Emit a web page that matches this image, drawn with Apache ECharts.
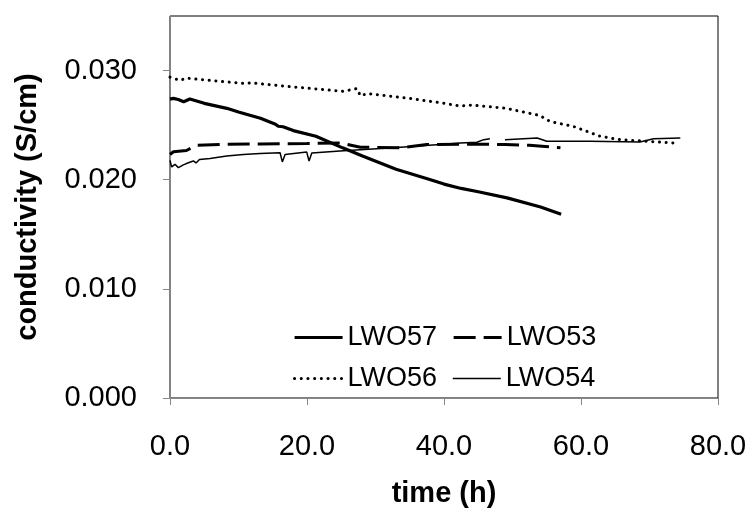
<!DOCTYPE html>
<html>
<head>
<meta charset="utf-8">
<script src="https://cdn.jsdelivr.net/npm/echarts@6/dist/echarts.min.js"></script>
<style>
html,body{margin:0;padding:0;background:#fff;}
#chart{width:753px;height:513px;}
</style>
</head>
<body>
<div id="chart"></div>
<script>
// ---- data (time in h, conductivity in S/cm) ----
const seriesNames = ['LWO57', 'LWO53', 'LWO56', 'LWO54'];
const xTicks = [0, 20, 40, 60, 80];
const yTicks = [0, 0.01, 0.02, 0.03];

const t57 = [0, 0.5, 1.2, 2.0, 2.9, 5.0, 8.3, 10.0, 13.2, 15.4, 15.8, 16.5, 18.0, 21.3, 25.2, 28.1, 33.0, 37.8, 40.0, 42.5, 45.0, 49.2, 54.1, 57.1];
const v57 = [0.02738, 0.02745, 0.02735, 0.02714, 0.0274, 0.0270, 0.02654, 0.0262, 0.02563, 0.02509, 0.0249, 0.02485, 0.0245, 0.02398, 0.02292, 0.02217, 0.02096, 0.02005, 0.0196, 0.0192, 0.0189, 0.01834, 0.0175, 0.01684];

const t53 = [0, 0.5, 2.4, 3.9, 8.0, 13.2, 20.0, 24.8, 27.8, 33.6, 37.5, 42.4, 46.0, 48.9, 52.5, 54.3, 57.0];
const v53 = [0.02231, 0.02256, 0.02268, 0.02316, 0.02325, 0.02328, 0.02332, 0.02337, 0.02298, 0.02292, 0.02322, 0.02325, 0.02326, 0.02322, 0.02316, 0.02307, 0.02292];

const t56 = [0, 1.46, 2.4, 5.8, 11.2, 11.7, 18.0, 25.3, 27.3, 27.8, 28.8, 35.1, 40.0, 42.4, 44.0, 49.1, 54.0, 55.5, 58.9, 62.8, 65.7, 69.6, 73.5];
const v56 = [0.0294, 0.0291, 0.02931, 0.0291, 0.0288, 0.02888, 0.0285, 0.0281, 0.02835, 0.02768, 0.0279, 0.02744, 0.0270, 0.02675, 0.02684, 0.02654, 0.02588, 0.02533, 0.02488, 0.02398, 0.02367, 0.02352, 0.02337];

const t54 = [0, 0.24, 0.73, 1.22, 1.95, 2.68, 3.41, 3.8, 4.3, 5.84, 8.28, 10.7, 13.15, 16.07, 16.4, 16.8, 19.96, 20.3, 20.7, 24.8, 32.6, 39.4, 42.4, 44.8, 45.8, 46.7, 47.8, 48.9, 51.6, 53.6, 55.0, 61.3, 68.6, 70.6, 74.5];
const v54 = [0.02177, 0.02117, 0.02141, 0.02111, 0.02136, 0.02156, 0.02172, 0.02154, 0.02186, 0.02195, 0.02217, 0.02231, 0.0224, 0.02247, 0.02163, 0.02231, 0.02253, 0.02172, 0.02244, 0.02262, 0.02292, 0.02322, 0.02337, 0.02343, 0.02367, 0.02376, null, 0.02367, 0.02376, 0.02382, 0.02352, 0.02352, 0.02346, 0.02376, 0.02382];

function zip(t, v) { return t.map((x, i) => [x, v[i]]); }

const FONT = '"Liberation Sans", Arial, sans-serif';
const styles = {
  LWO57: {color: '#000', width: 3.2, type: 'solid'},
  LWO53: {color: '#000', width: 3, type: [22, 8]},
  LWO56: {color: '#000', width: 3, type: [0.1, 6.6], cap: 'round'},
  LWO54: {color: '#000', width: 1.5, type: 'solid'}
};
const chart = echarts.init(document.getElementById('chart'), null, {renderer: 'canvas'});

function legendCfg(names, top) {
  return {
    data: names.map(n => ({name: n, lineStyle: styles[n], itemStyle: {opacity: 0}})),
    left: 288, top: top, orient: 'horizontal',
    itemWidth: 48, itemHeight: 14, itemGap: 15,
    itemStyle: {opacity: 0},
    textStyle: {fontFamily: FONT, fontSize: 27, color: '#000', padding: [0, 0, 0, 0]},
    selectedMode: false
  };
}

const option = {
  backgroundColor: '#fff',
  animation: false,
  grid: {
    left: 170, right: 35, top: 16, bottom: 109,
    show: true, borderColor: '#000', borderWidth: 1, backgroundColor: 'transparent'
  },
  legend: [legendCfg([seriesNames[0], seriesNames[1]], 319), legendCfg([seriesNames[2], seriesNames[3]], 360)],
  xAxis: {
    type: 'value', min: xTicks[0], max: xTicks[xTicks.length - 1], interval: 20,
    name: 'time (h)', nameLocation: 'middle', nameGap: 81,
    nameTextStyle: {fontFamily: FONT, fontSize: 29, fontWeight: 'bold', color: '#000'},
    axisLine: {show: true, lineStyle: {color: '#868686', width: 1}},
    axisTick: {show: true, length: 7, lineStyle: {color: '#868686'}},
    axisLabel: {fontFamily: FONT, fontSize: 29, color: '#000', margin: 34,
      formatter: v => v.toFixed(1)},
    splitLine: {show: false}
  },
  yAxis: {
    type: 'value', min: yTicks[0], max: 0.035, interval: 0.01,
    name: 'conductivity (S/cm)', nameLocation: 'middle', nameGap: 128,
    nameTextStyle: {fontFamily: FONT, fontSize: 29, fontWeight: 'bold', color: '#000'},
    axisLine: {show: true, lineStyle: {color: '#868686', width: 1}},
    axisTick: {show: true, length: 7, lineStyle: {color: '#868686'}},
    axisLabel: {fontFamily: FONT, fontSize: 29, color: '#000', margin: 33, showMaxLabel: false,
      formatter: v => (Math.round(v * 1000) % 10 === 0 ? v.toFixed(3) : '')},
    splitLine: {show: false}
  },
  series: [
    {
      name: seriesNames[0], type: 'line', data: zip(t57, v57), showSymbol: false, symbol: 'none',
      lineStyle: styles.LWO57, itemStyle: {color: '#000'}, z: 4
    },
    {
      name: seriesNames[1], type: 'line', data: zip(t53, v53), showSymbol: false, symbol: 'none',
      lineStyle: styles.LWO53, itemStyle: {color: '#000'}, z: 3
    },
    {
      name: seriesNames[2], type: 'line', data: zip(t56, v56), showSymbol: false, symbol: 'none',
      lineStyle: styles.LWO56, itemStyle: {color: '#000'}, z: 2
    },
    {
      name: seriesNames[3], type: 'line', data: zip(t54, v54), showSymbol: false, symbol: 'none',
      connectNulls: false,
      lineStyle: styles.LWO54, itemStyle: {color: '#000'}, z: 2
    }
  ]
};
chart.setOption(option);
</script>
</body>
</html>
